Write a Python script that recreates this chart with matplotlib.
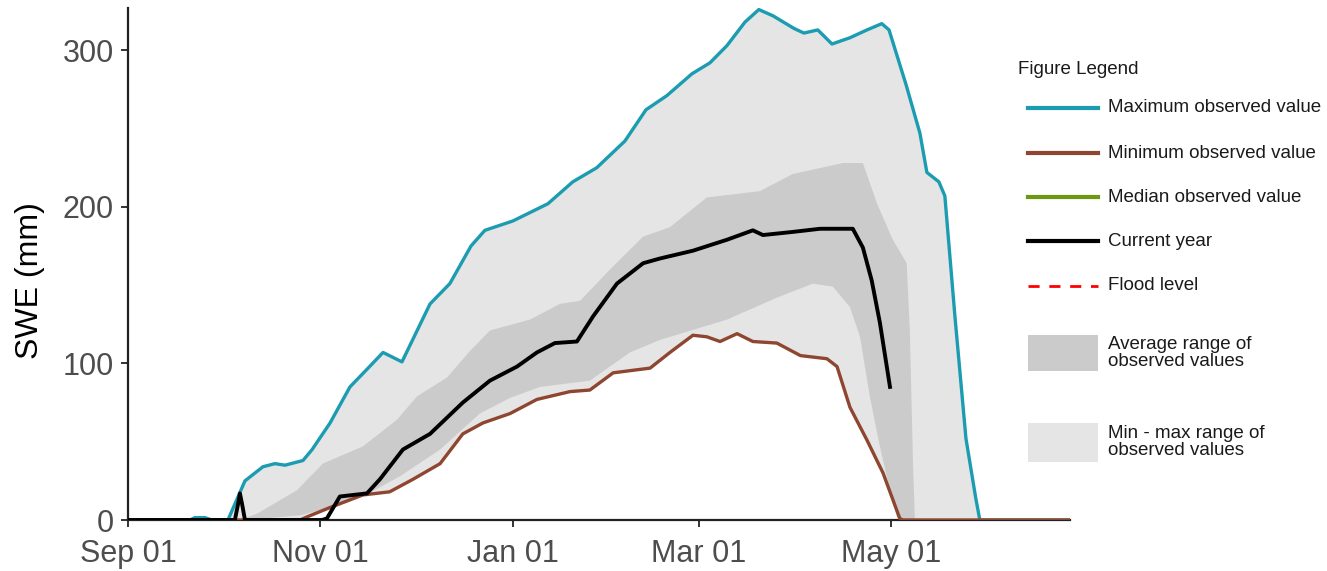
import matplotlib
matplotlib.use("Agg")
import matplotlib.pyplot as plt
from matplotlib.lines import Line2D
from matplotlib.patches import Rectangle

plt.rcParams['font.family'] = ['Liberation Sans', 'DejaVu Sans']

# days since Sep 01, SWE in mm
max_day = [0, 19.7, 21.2, 24.4, 26.6, 31.7, 37.1, 42.8, 46.6, 49.8, 55.5, 58.4, 64.1, 70.4,
           75.2, 80.9, 86.9, 95.8, 102.1, 108.8, 113.2, 122.1, 133.2, 141.1, 148.7, 157.6,
           164.3, 170.9, 178.9, 184.6, 190.0, 195.7, 200.1, 204.6, 211.2, 214.4, 218.8,
           223.3, 229.0, 234.4, 239.1, 241.4, 246.8, 251.2, 253.4, 257.2, 259.1, 262.3,
           265.8, 268.9, 270.2, 298.8]
max_swe = [0, 0, 1.5, 1.5, 0, 0, 25, 34, 36, 35, 38, 45, 62, 85,
           95, 107, 101, 138, 151, 175, 185, 191, 202, 216, 225, 242,
           262, 271, 285, 292, 303, 318, 326, 322, 314, 311, 313,
           304, 308, 313, 317, 313, 278, 247, 222, 216, 207, 130,
           52, 14, 0, 0]

min_day = [0, 54.6, 56.8, 64.1, 74.5, 83.0, 90.4, 99.0, 106.2, 112.6, 121.2, 129.7, 140.2,
           146.5, 153.9, 165.6, 171.9, 179.2, 183.6, 187.8, 193.2, 198.2, 205.8, 213.3,
           221.7, 224.9, 229.0, 234.4, 239.5, 244.8, 245.8, 298.8]
min_swe = [0, 0, 2, 8, 16, 18, 26, 36, 55, 62, 68, 77, 82,
           83, 94, 97, 107, 118, 117, 114, 119, 114, 113, 105,
           103, 98, 72, 51, 30, 1, 0, 0]

cur_day = [0, 33.9, 34.9, 35.5, 36.2, 37.1, 61.5, 63.1, 67.2, 75.8, 79.9, 87.2, 95.8, 106.2,
           114.8, 123.4, 129.7, 135.4, 142.4, 147.5, 155.1, 163.4, 168.7, 179.2, 190.0,
           198.2, 201.4, 210.9, 219.5, 229.9, 233.1, 235.9, 238.5, 241.7]
cur_swe = [0, 0, 10, 17, 10, 0, 0, 1, 15, 17, 26, 45, 55, 75,
           89, 98, 107, 113, 114, 130, 151, 164, 167, 172, 179,
           185, 182, 184, 186, 186, 174, 153, 126, 85]

# average range band (upper and lower edges)
avg_hi_day = [35.5, 40.9, 53.6, 61.8, 74.5, 85.3, 91.7, 101.2, 108.5, 114.8, 127.5, 137.0,
              143.4, 152.9, 163.4, 171.9, 183.6, 200.4, 210.9, 226.8, 233.1, 237.6, 242.6,
              247.0, 248.0, 249.0, 249.6]
avg_hi = [0, 4, 19, 36, 47, 64, 79, 91, 108, 121, 128, 138,
          140, 160, 181, 187, 206, 210, 221, 228, 228, 202, 179,
          164, 121, 36, 0]
avg_lo_day = [37.1, 54.6, 64.1, 74.5, 86.3, 99.0, 111.6, 121.2, 130.7, 146.5, 159.2, 168.7,
              190.0, 205.8, 217.3, 223.6, 229.0, 232.2, 235.3, 238.5, 241.7, 243.9, 244.8]
avg_lo = [0, 3, 8, 15, 28, 45, 68, 78, 85, 89, 107, 115,
          128, 142, 151, 149, 136, 117, 79, 47, 19, 2, 0]

tick_days = [0, 61, 122, 181, 242]
tick_labels = ['Sep 01', 'Nov 01', 'Jan 01', 'Mar 01', 'May 01']

c_max = '#1b9cb1'
c_min = '#8f4630'
c_med = '#6b9a12'
c_dark = '#cbcbcb'
c_light = '#e5e5e5'

fig = plt.figure(figsize=(13.27, 5.71), dpi=100)
W, H = 1327, 571
ax = fig.add_axes([128 / W, 1 - 520 / H, (1070 - 128) / W, (520 - 8) / H])

# min-max envelope and average band
ax.fill(max_day + min_day[::-1], max_swe + min_swe[::-1], color=c_light, lw=0, zorder=1)
ax.fill(avg_hi_day + avg_lo_day[::-1], avg_hi + avg_lo[::-1], color=c_dark, lw=0, zorder=2)

ax.plot(max_day, max_swe, color=c_max, lw=2.4, zorder=3, solid_joinstyle='round')
ax.plot(min_day, min_swe, color=c_min, lw=2.4, zorder=4, solid_joinstyle='round')
ax.plot(cur_day, cur_swe, color='black', lw=2.8, zorder=5, solid_joinstyle='round')

ax.set_xlim(0, 298.8)
ax.set_ylim(0, 327)
ax.set_xticks(tick_days)
ax.set_xticklabels(tick_labels)
ax.set_yticks([0, 100, 200, 300])
for s in ['top', 'right']:
    ax.spines[s].set_visible(False)
for s in ['left', 'bottom']:
    ax.spines[s].set_color('#222222')
    ax.spines[s].set_linewidth(1.6)
ax.tick_params(axis='both', length=5, width=1.4, color='#333333',
               labelsize=22, labelcolor='#4d4d4d')
ax.tick_params(axis='x', pad=9)
ax.tick_params(axis='y', pad=5)
ax.set_ylabel('SWE (mm)', fontsize=23, color='black')
ax.yaxis.set_label_coords(-0.088, 0.467)

# legend panel
lg = fig.add_axes([1000 / W, 0, 327 / W, 1])
lg.set_xlim(1000, 1327)
lg.set_ylim(571, 0)
lg.axis('off')
lg.text(1018, 70, 'Figure Legend', fontsize=13.5, color='#1a1a1a', va='center')

entries = [
    (108, dict(color=c_max, lw=3), 'Maximum observed value'),
    (153, dict(color=c_min, lw=3), 'Minimum observed value'),
    (197, dict(color=c_med, lw=3), 'Median observed value'),
    (241, dict(color='black', lw=3), 'Current year'),
    (286, dict(color='red', lw=2, ls=(0, (4, 3.5))), 'Flood level'),
]
for y, style, label in entries:
    lg.add_line(Line2D([1028, 1098], [y, y], **style))
    lg.text(1108, y, label, fontsize=13.5, color='#1a1a1a', va='center')

lg.add_patch(Rectangle((1028, 335), 70, 36, color=c_dark, lw=0))
lg.text(1108, 353, 'Average range of\nobserved values', fontsize=13.5, color='#1a1a1a',
        va='center', linespacing=1.0)
lg.add_patch(Rectangle((1028, 423), 70, 39, color=c_light, lw=0))
lg.text(1108, 442, 'Min - max range of\nobserved values', fontsize=13.5, color='#1a1a1a',
        va='center', linespacing=1.0)

fig.savefig('out.png', dpi=100)
